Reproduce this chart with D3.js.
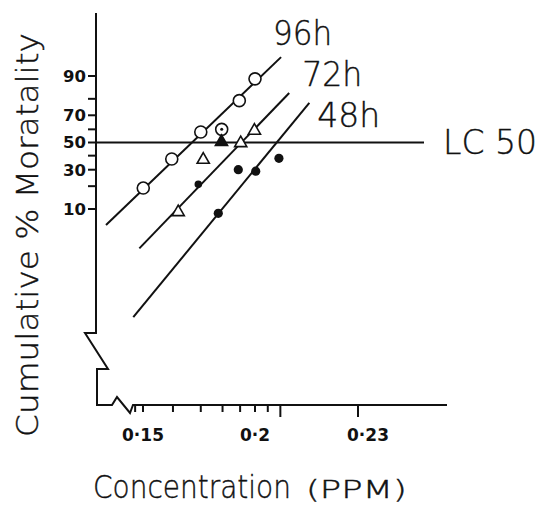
<!DOCTYPE html>
<html><head><meta charset="utf-8">
<script src="https://cdn.jsdelivr.net/npm/d3@7"></script>
<style>
html,body{margin:0;padding:0;background:#fff;}
svg{display:block;}
.lt{font-family:"DejaVu Sans";font-weight:200;fill:#111;stroke:#111;stroke-width:0.4;}
.tk{font-family:"DejaVu Sans";font-weight:bold;fill:#111;}
</style></head>
<body>
<svg id="c" width="544" height="523"></svg>
<script>
// ---- data ----
const seriesNames = ["96h", "72h", "48h"];
const conc96 = [0.1501, 0.1615, 0.1740, 0.1836, 0.1921, 0.2000];
const mort96 = [19, 37.5, 58, 60, 79, 89];
const conc72 = [0.1642, 0.1729, 0.1751, 0.1835, 0.1928, 0.1997];
const mort72 = [9, 21, 37, 50.5, 49.5, 59];
const conc48 = [0.1820, 0.1916, 0.2002, 0.2066];
const mort48 = [8.6, 30, 29, 38];
const fitConc96 = [0.1364, 0.2072], fitMort96 = [5.6, 95];
const fitConc72 = [0.1486, 0.2095], fitMort72 = [2.07, 83];
const fitConc48 = [0.1463, 0.2153], fitMort48 = [0.038, 77.8];
const lc50Value = 50;
const yTickValues = [10, 20, 30, 40, 50, 60, 70, 80, 90];
const yTickLabels = [90, 70, 50, 30, 10];
const xLabelValues = [0.15, 0.2, 0.23];
const xLabelTexts = ["0·15", "0·2", "0·23"];
const xShortTicks = [0.147, 0.15, 0.162, 0.174, 0.184, 0.1925, 0.2, 0.2035];
const xLongTicks = [0.207, 0.23];

// inverse normal CDF (probit transform for the mortality axis)
function probit(p){
  const a=[-3.969683028665376e+01,2.209460984245205e+02,-2.759285104469687e+02,1.383577518672690e+02,-3.066479806614716e+01,2.506628277459239e+00];
  const b=[-5.447609879822406e+01,1.615858368580409e+02,-1.556989798598866e+02,6.680131188771972e+01,-1.328068155288572e+01];
  const c=[-7.784894002430293e-03,-3.223964580411365e-01,-2.400758277161838e+00,-2.549732539343734e+00,4.374664141464968e+00,2.938163982698783e+00];
  const d=[7.784695709041462e-03,3.224671290700398e-01,2.445134137142996e+00,3.754408661907416e+00];
  const pl=0.02425, ph=1-pl; let q,r;
  if(p<pl){q=Math.sqrt(-2*Math.log(p));return (((((c[0]*q+c[1])*q+c[2])*q+c[3])*q+c[4])*q+c[5])/((((d[0]*q+d[1])*q+d[2])*q+d[3])*q+1);}
  if(p<=ph){q=p-0.5;r=q*q;return (((((a[0]*r+a[1])*r+a[2])*r+a[3])*r+a[4])*r+a[5])*q/(((((b[0]*r+b[1])*r+b[2])*r+b[3])*r+b[4])*r+1);}
  q=Math.sqrt(-2*Math.log(1-p));return -(((((c[0]*q+c[1])*q+c[2])*q+c[3])*q+c[4])*q+c[5])/((((d[0]*q+d[1])*q+d[2])*q+d[3])*q+1);
}

const svg = d3.select("#c");
const ink = "#111";

// lettering helper: text squeezed horizontally to a target width via transform
function letter(str, px, py, size, width, rotate) {
  const t = svg.append("text").attr("class", "lt").attr("font-size", size).text(str);
  const natural = t.node().getComputedTextLength();
  const sx = width / natural;
  if (rotate) {
    t.attr("text-anchor", "middle")
     .attr("transform", `translate(${px},${py}) rotate(-90) scale(${sx},1)`);
  } else {
    t.attr("transform", `translate(${px},${py}) scale(${sx},1)`);
  }
  return t;
}

// scales: log concentration (hand-drawn, piecewise) and probit mortality
const xs = d3.scaleLinear().domain(xLabelValues.map(Math.log)).range([143, 255, 358]);
const x = v => xs(Math.log(v));
const zs = d3.scaleLinear().domain([probit(0.10), probit(0.90)]).range([209, 76]);
const y = v => zs(probit(v / 100));

const axX = 96, axTop = 13, axBottom = 405, axRight = 447;

// ---- axes frame with broken-axis zigzags ----
svg.append("path")
  .attr("d", `M${axX},${axTop} V333 H85 L108,369 H97 V${axBottom} H112 L117,397 L130,413 L133,${axBottom} H${axRight}`)
  .attr("fill", "none").attr("stroke", ink).attr("stroke-width", 2).attr("stroke-linejoin", "miter");

// y ticks
svg.append("g").selectAll("line").data(yTickValues).join("line")
  .attr("x1", axX - 8).attr("x2", axX).attr("y1", d => y(d)).attr("y2", d => y(d))
  .attr("stroke", ink).attr("stroke-width", 2);
svg.append("g").selectAll("text").data(yTickLabels).join("text")
  .attr("class", "tk").attr("x", axX - 10).attr("y", d => y(d)).attr("dy", "0.36em")
  .attr("text-anchor", "end").attr("font-size", 16.5).text(d => d);

// x ticks
svg.append("g").selectAll("line").data(xShortTicks).join("line")
  .attr("x1", d => x(d)).attr("x2", d => x(d)).attr("y1", axBottom).attr("y2", axBottom + 7)
  .attr("stroke", ink).attr("stroke-width", 2);
svg.append("g").selectAll("line").data(xLongTicks).join("line")
  .attr("x1", d => x(d)).attr("x2", d => x(d)).attr("y1", axBottom).attr("y2", axBottom + 12)
  .attr("stroke", ink).attr("stroke-width", 2);
svg.append("g").selectAll("text").data(xLabelValues).join("text")
  .attr("class", "tk").attr("x", (d, i) => x(d) + (i === 2 ? 10 : 0)).attr("y", 441)
  .attr("text-anchor", "middle").attr("font-size", 17).text((d, i) => xLabelTexts[i]);

// LC50 line
svg.append("line").attr("x1", axX).attr("x2", 424).attr("y1", y(lc50Value)).attr("y2", y(lc50Value))
  .attr("stroke", ink).attr("stroke-width", 2.2);
letter("LC 50", 443, y(lc50Value) + 11, 34, 94);

// fitted lines
const fits = [[fitConc96, fitMort96], [fitConc72, fitMort72], [fitConc48, fitMort48]];
const line = d3.line().x(d => x(d[0])).y(d => y(d[1]));
fits.forEach(([cs, ms]) => {
  svg.append("path").attr("d", line(cs.map((c, i) => [c, ms[i]])))
    .attr("fill", "none").attr("stroke", ink).attr("stroke-width", 2);
});

// series labels
const labelOffsets = [[-8, -12, 59], [13, -7, 60], [8, 24, 63]];
fits.forEach(([cs, ms], i) => {
  const ex = x(cs[1]), ey = y(ms[1]);
  letter(seriesNames[i], ex + labelOffsets[i][0], ey + labelOffsets[i][1], 34, labelOffsets[i][2]);
});

// 96h: open circles
const p96 = conc96.map((c, i) => [c, mort96[i]]);
svg.append("g").selectAll("circle").data(p96).join("circle")
  .attr("cx", d => x(d[0])).attr("cy", d => y(d[1])).attr("r", 6)
  .attr("fill", "#fff").attr("stroke", ink).attr("stroke-width", 1.6);
// dotted one
svg.append("circle").attr("cx", x(p96[3][0])).attr("cy", y(p96[3][1])).attr("r", 1.5).attr("fill", ink);

// 72h: triangles
const p72 = conc72.map((c, i) => [c, mort72[i]]);
const tri = d3.symbol().type(d3.symbolTriangle).size(64);
svg.append("g").selectAll("path").data(p72).join("path")
  .attr("d", (d, i) => i === 1 ? d3.symbol().type(d3.symbolCircle).size(28)() : tri())
  .attr("transform", d => `translate(${x(d[0])},${y(d[1])})`)
  .attr("fill", (d, i) => (i === 1 || i === 3) ? ink : "#fff")
  .attr("stroke", ink).attr("stroke-width", 1.6);

// 48h: filled circles
const p48 = conc48.map((c, i) => [c, mort48[i]]);
svg.append("g").selectAll("circle").data(p48).join("circle")
  .attr("cx", d => x(d[0])).attr("cy", d => y(d[1])).attr("r", 4.6).attr("fill", ink);

// axis titles
letter("Cumulative % Moratality", 38, 235, 31, 404, true);
letter("Concentration", 93, 498, 32, 198);
letter("(PPM)", 306, 498, 25, 101);
</script>
</body></html>
